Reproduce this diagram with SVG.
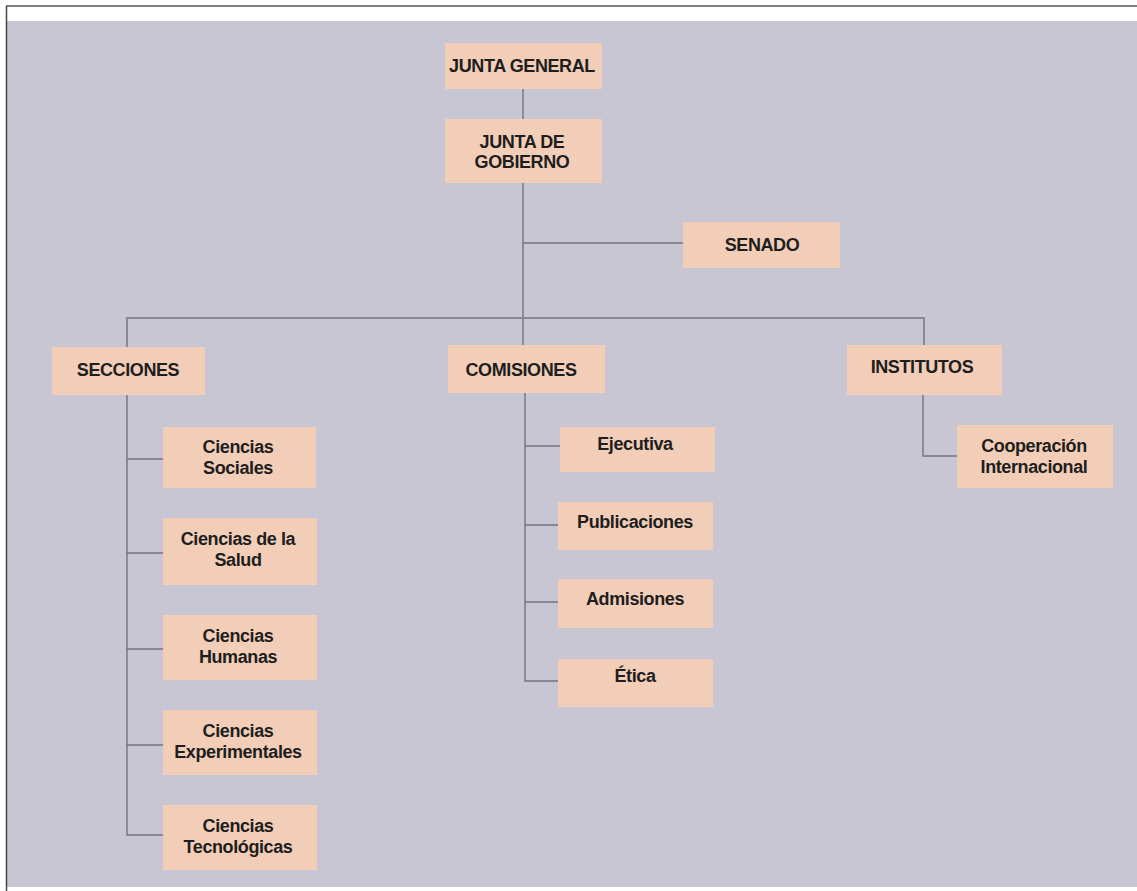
<svg xmlns="http://www.w3.org/2000/svg" width="1137" height="891" viewBox="0 0 1137 891">
<style>
.box{fill:#f2cdb7;}
.t{font-family:"Liberation Sans",Arial,sans-serif;font-weight:bold;font-size:18px;letter-spacing:-0.4px;fill:#1e1e1e;text-anchor:middle;}
.c{stroke:#73737e;stroke-width:1.4;fill:none;}
.bar{stroke:#8a8a96;stroke-width:2;fill:none;}
</style>
<rect x="0" y="0" width="1137" height="891" fill="#ffffff"/>
<rect x="7" y="21" width="1130" height="866" fill="#c8c6d2"/>
<line x1="6" y1="6" x2="1137" y2="6" stroke="#555" stroke-width="1.5"/>
<line x1="6.5" y1="6" x2="6.5" y2="891" stroke="#444" stroke-width="1.5"/>
<g id="connectors">
<line class="c" x1="523" y1="89" x2="523" y2="119"/>
<line class="c" x1="523" y1="183" x2="523" y2="318"/>
<line class="c" x1="523" y1="243" x2="683" y2="243"/>
<polyline class="bar" points="127,347 127,318 924,318 924,345"/>
<line class="c" x1="523" y1="318" x2="523" y2="345"/>
<polyline class="c" points="127,395 127,835 163,835"/>
<line class="c" x1="127" y1="459" x2="163" y2="459"/>
<line class="c" x1="127" y1="553" x2="163" y2="553"/>
<line class="c" x1="127" y1="649" x2="163" y2="649"/>
<line class="c" x1="127" y1="745" x2="163" y2="745"/>
<polyline class="c" points="525,393 525,681 559,681"/>
<line class="c" x1="525" y1="446" x2="560" y2="446"/>
<line class="c" x1="525" y1="525" x2="558" y2="525"/>
<line class="c" x1="525" y1="602" x2="558" y2="602"/>
<polyline class="c" points="923,395 923,456 957,456"/>
</g>
<g id="junta-general"><rect class="box" x="445" y="43" width="157" height="46"/><text class="t" x="522" y="72">JUNTA GENERAL</text></g>
<g id="junta-gobierno"><rect class="box" x="445" y="119" width="157" height="64"/><text class="t" x="522" y="148">JUNTA DE</text><text class="t" x="522" y="168">GOBIERNO</text></g>
<g id="senado"><rect class="box" x="683" y="222" width="157" height="46"/><text class="t" x="762" y="251">SENADO</text></g>
<g id="secciones"><rect class="box" x="52" y="347" width="153" height="48"/><text class="t" x="128" y="376">SECCIONES</text></g>
<g id="comisiones"><rect class="box" x="448" y="345" width="157" height="48"/><text class="t" x="521" y="376">COMISIONES</text></g>
<g id="institutos"><rect class="box" x="847" y="345" width="155" height="50"/><text class="t" x="922" y="373">INSTITUTOS</text></g>
<g id="ciencias-sociales"><rect class="box" x="163" y="427" width="153" height="61"/><text class="t" x="238" y="453">Ciencias</text><text class="t" x="238" y="474">Sociales</text></g>
<g id="ciencias-salud"><rect class="box" x="163" y="518" width="154" height="67"/><text class="t" x="238" y="545">Ciencias de la</text><text class="t" x="238" y="566">Salud</text></g>
<g id="ciencias-humanas"><rect class="box" x="163" y="615" width="154" height="65"/><text class="t" x="238" y="642">Ciencias</text><text class="t" x="238" y="663">Humanas</text></g>
<g id="ciencias-experimentales"><rect class="box" x="163" y="710" width="154" height="65"/><text class="t" x="238" y="737">Ciencias</text><text class="t" x="238" y="758">Experimentales</text></g>
<g id="ciencias-tecnologicas"><rect class="box" x="163" y="805" width="154" height="65"/><text class="t" x="238" y="832">Ciencias</text><text class="t" x="238" y="853">Tecnológicas</text></g>
<g id="ejecutiva"><rect class="box" x="560" y="427" width="155" height="45"/><text class="t" x="635" y="450">Ejecutiva</text></g>
<g id="publicaciones"><rect class="box" x="558" y="502" width="155" height="48"/><text class="t" x="635" y="528">Publicaciones</text></g>
<g id="admisiones"><rect class="box" x="558" y="579" width="155" height="49"/><text class="t" x="635" y="605">Admisiones</text></g>
<g id="etica"><rect class="box" x="558" y="659" width="155" height="48"/><text class="t" x="635" y="682">Ética</text></g>
<g id="cooperacion"><rect class="box" x="957" y="425" width="156" height="63"/><text class="t" x="1034" y="452">Cooperación</text><text class="t" x="1034" y="473">Internacional</text></g>
</svg>
